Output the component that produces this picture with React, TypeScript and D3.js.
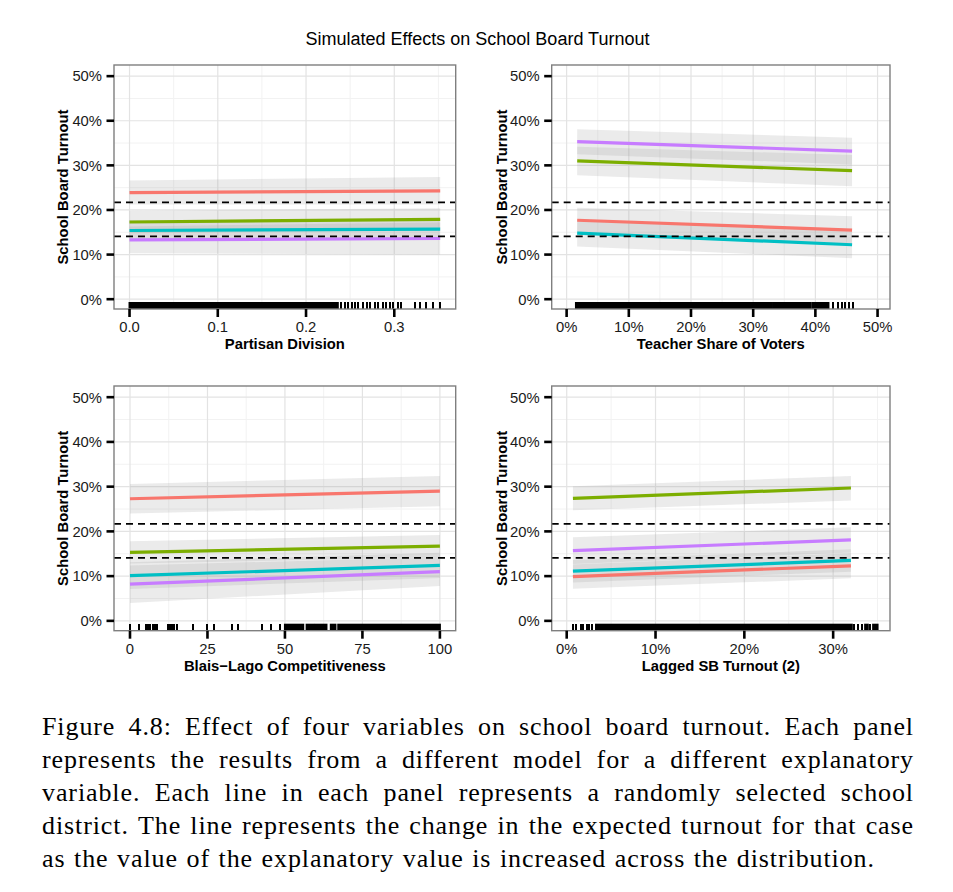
import React, { useRef, useEffect } from "react";
import * as d3 from "d3";

const width = 953;
const height = 892;

const chartTitle = "Simulated Effects on School Board Turnout";
const yTitle = "School Board Turnout";

// red, green, teal, purple districts (same order in every panel)
const lineColors = ["#F8766D", "#7CAE00", "#00BFC4", "#C77CFF"];

const yTicks = [0, 0.1, 0.2, 0.3, 0.4, 0.5];
const yMinor = [0.05, 0.15, 0.25, 0.35, 0.45];
const yDomain = [-0.022, 0.525];
const thresholds = [0.217, 0.141];

// Partisan Division
const partisanTicks = [0, 0.1, 0.2, 0.3];
const partisanMinor = [0.05, 0.15, 0.25, 0.35];
const partisanRange = [0, 0.352];
const partisanLines = [
  { y0: 0.239, y1: 0.243, lo0: 0.212, lo1: 0.212, hi0: 0.266, hi1: 0.274 },
  { y0: 0.173, y1: 0.179, lo0: 0.148, lo1: 0.154, hi0: 0.198, hi1: 0.204 },
  { y0: 0.154, y1: 0.157, lo0: 0.131, lo1: 0.134, hi0: 0.177, hi1: 0.18 },
  { y0: 0.133, y1: 0.136, lo0: 0.103, lo1: 0.1, hi0: 0.163, hi1: 0.172 },
];
const partisanRugDense = [[0, 0.236]];
const partisanRug = [
  0.24, 0.244, 0.248, 0.252, 0.255, 0.259, 0.265, 0.269, 0.273, 0.278, 0.282,
  0.287, 0.291, 0.295, 0.299, 0.304, 0.308, 0.3235, 0.329, 0.336, 0.3436, 0.352,
];

// Teacher Share of Voters
const teacherTicks = [0, 0.1, 0.2, 0.3, 0.4, 0.5];
const teacherMinor = [0.05, 0.15, 0.25, 0.35, 0.45];
const teacherRange = [0.017, 0.459];
const teacherLines = [
  { y0: 0.177, y1: 0.155, lo0: 0.149, lo1: 0.124, hi0: 0.205, hi1: 0.186 },
  { y0: 0.31, y1: 0.288, lo0: 0.278, lo1: 0.253, hi0: 0.342, hi1: 0.323 },
  { y0: 0.148, y1: 0.122, lo0: 0.118, lo1: 0.092, hi0: 0.178, hi1: 0.152 },
  { y0: 0.353, y1: 0.332, lo0: 0.325, lo1: 0.302, hi0: 0.381, hi1: 0.362 },
];
const teacherRugDense = [
  [0.015, 0.33], [0.332, 0.37], [0.372, 0.392], [0.395, 0.408], [0.41, 0.421],
];
const teacherRug = [0.428, 0.436, 0.4425, 0.448, 0.4545, 0.46];

// Blais-Lago Competitiveness
const blaisTicks = [0, 25, 50, 75, 100];
const blaisMinor = [12.5, 37.5, 62.5, 87.5];
const blaisRange = [0, 100];
const blaisLines = [
  { y0: 0.273, y1: 0.29, lo0: 0.24, lo1: 0.256, hi0: 0.306, hi1: 0.324 },
  { y0: 0.153, y1: 0.167, lo0: 0.128, lo1: 0.142, hi0: 0.178, hi1: 0.192 },
  { y0: 0.101, y1: 0.124, lo0: 0.071, lo1: 0.096, hi0: 0.131, hi1: 0.152 },
  { y0: 0.082, y1: 0.11, lo0: 0.04, lo1: 0.078, hi0: 0.124, hi1: 0.142 },
];
const blaisRugDense = [[50, 55.9], [57, 59.1], [59.7, 63.4], [64.8, 66.3], [67.2, 100]];
const blaisRug = [
  0, 2.8, 5.2, 5.8, 6.4, 7.5, 8.2, 8.7, 12.2, 12.8, 13.5, 14.3, 15.1, 20.2, 24.8,
  27.1, 32.8, 34.9, 42.5, 45.6, 48.4,
];

// Lagged SB Turnout (2)
const laggedTicks = [0, 0.1, 0.2, 0.3];
const laggedMinor = [0.05, 0.15, 0.25, 0.35];
const laggedRange = [0.007, 0.32];
const laggedLines = [
  { y0: 0.099, y1: 0.123, lo0: 0.072, lo1: 0.095, hi0: 0.126, hi1: 0.151 },
  { y0: 0.274, y1: 0.297, lo0: 0.247, lo1: 0.269, hi0: 0.301, hi1: 0.324 },
  { y0: 0.111, y1: 0.135, lo0: 0.086, lo1: 0.11, hi0: 0.136, hi1: 0.16 },
  { y0: 0.157, y1: 0.181, lo0: 0.127, lo1: 0.153, hi0: 0.187, hi1: 0.209 },
];
const laggedRugDense = [[0.033, 0.321], [0.336, 0.339], [0.345, 0.35]];
const laggedRug = [0.0075, 0.011, 0.016, 0.018, 0.0225, 0.0255, 0.028, 0.324, 0.328, 0.332, 0.341];

const captionLines = [
  "Figure 4.8: Effect of four variables on school board turnout. Each panel",
  "represents the results from a different model for a different explanatory",
  "variable. Each line in each panel represents a randomly selected school",
  "district. The line represents the change in the expected turnout for that case",
  "as the value of the explanatory value is increased across the distribution.",
];

const pct = d3.format(".0%");

const panels = [
  {
    left: 114, top: 65, w: 341.7, h: 244, domain: [-0.0176, 0.3696],
    ticks: partisanTicks, minor: partisanMinor, fmt: d3.format(".1f"),
    title: "Partisan Division", range: partisanRange, lines: partisanLines,
    dense: partisanRugDense, rug: partisanRug, yTitleX: 63,
  },
  {
    left: 551.7, top: 65, w: 338.3, h: 244, domain: [-0.024, 0.52],
    ticks: teacherTicks, minor: teacherMinor, fmt: pct,
    title: "Teacher Share of Voters", range: teacherRange, lines: teacherLines,
    dense: teacherRugDense, rug: teacherRug, yTitleX: 501.5,
  },
  {
    left: 114, top: 386, w: 341.7, h: 244.7, domain: [-5.16, 105.1],
    ticks: blaisTicks, minor: blaisMinor, fmt: d3.format("d"),
    title: "Blais\u2212Lago Competitiveness", range: blaisRange, lines: blaisLines,
    dense: blaisRugDense, rug: blaisRug, yTitleX: 63,
  },
  {
    left: 551.7, top: 386, w: 338.3, h: 244.7, domain: [-0.0169, 0.364],
    ticks: laggedTicks, minor: laggedMinor, fmt: pct,
    title: "Lagged SB Turnout (2)", range: laggedRange, lines: laggedLines,
    dense: laggedRugDense, rug: laggedRug, yTitleX: 501.5,
  },
];

const sans = "'Liberation Sans', Arial, Helvetica, sans-serif";

export default function App() {
  const ref = useRef<SVGSVGElement | null>(null);

  useEffect(() => {
    const svg = d3.select(ref.current);
    svg.selectAll("*").remove();

    svg.append("rect").attr("width", width).attr("height", height).attr("fill", "#fff");

    svg
      .append("text")
      .attr("x", 477.5)
      .attr("y", 44.5)
      .attr("text-anchor", "middle")
      .attr("font-family", sans)
      .attr("font-size", 18)
      .attr("fill", "#000")
      .text(chartTitle);

    panels.forEach((p) => {
      const x = d3.scaleLinear().domain(p.domain).range([p.left, p.left + p.w]);
      const y = d3.scaleLinear().domain(yDomain).range([p.top + p.h, p.top]);
      const g = svg.append("g");
      const bottom = p.top + p.h;

      // minor grid
      g.selectAll("line.xminor")
        .data(p.minor)
        .enter()
        .append("line")
        .attr("x1", (d) => x(d)).attr("x2", (d) => x(d))
        .attr("y1", p.top).attr("y2", bottom)
        .attr("stroke", "#f2f2f2").attr("stroke-width", 1);
      g.selectAll("line.yminor")
        .data(yMinor)
        .enter()
        .append("line")
        .attr("x1", p.left).attr("x2", p.left + p.w)
        .attr("y1", (d) => y(d)).attr("y2", (d) => y(d))
        .attr("stroke", "#f2f2f2").attr("stroke-width", 1);
      // major grid
      g.selectAll("line.xmajor")
        .data(p.ticks)
        .enter()
        .append("line")
        .attr("x1", (d) => x(d)).attr("x2", (d) => x(d))
        .attr("y1", p.top).attr("y2", bottom)
        .attr("stroke", "#e3e3e3").attr("stroke-width", 1.2);
      g.selectAll("line.ymajor")
        .data(yTicks)
        .enter()
        .append("line")
        .attr("x1", p.left).attr("x2", p.left + p.w)
        .attr("y1", (d) => y(d)).attr("y2", (d) => y(d))
        .attr("stroke", "#e3e3e3").attr("stroke-width", 1.2);

      // ribbons
      const area = d3
        .area<{ x: number; lo: number; hi: number }>()
        .x((d) => x(d.x))
        .y0((d) => y(d.lo))
        .y1((d) => y(d.hi));
      p.lines.forEach((l) => {
        g.append("path")
          .attr("d", area([
            { x: p.range[0], lo: l.lo0, hi: l.hi0 },
            { x: p.range[1], lo: l.lo1, hi: l.hi1 },
          ]))
          .attr("fill", "#999")
          .attr("fill-opacity", 0.2);
      });

      // fitted lines
      const line = d3
        .line<{ x: number; v: number }>()
        .x((d) => x(d.x))
        .y((d) => y(d.v));
      p.lines.forEach((l, i) => {
        g.append("path")
          .attr("d", line([
            { x: p.range[0], v: l.y0 },
            { x: p.range[1], v: l.y1 },
          ]))
          .attr("fill", "none")
          .attr("stroke", lineColors[i])
          .attr("stroke-width", 3.2);
      });

      // thresholds
      g.selectAll("line.thr")
        .data(thresholds)
        .enter()
        .append("line")
        .attr("x1", p.left).attr("x2", p.left + p.w)
        .attr("y1", (d) => y(d)).attr("y2", (d) => y(d))
        .attr("stroke", "#000").attr("stroke-width", 1.8)
        .attr("stroke-dasharray", "7,5");

      // rug
      g.selectAll("rect.dense")
        .data(p.dense)
        .enter()
        .append("rect")
        .attr("x", (d) => x(d[0]) - 1)
        .attr("width", (d) => x(d[1]) - x(d[0]) + 2)
        .attr("y", bottom - 7)
        .attr("height", 7)
        .attr("fill", "#000");
      g.selectAll("line.rug")
        .data(p.rug)
        .enter()
        .append("line")
        .attr("x1", (d) => x(d)).attr("x2", (d) => x(d))
        .attr("y1", bottom - 7).attr("y2", bottom)
        .attr("stroke", "#000").attr("stroke-width", 2)
        .attr("shape-rendering", "crispEdges");

      // border
      g.append("rect")
        .attr("x", p.left).attr("y", p.top)
        .attr("width", p.w).attr("height", p.h)
        .attr("fill", "none")
        .attr("stroke", "#7f7f7f")
        .attr("stroke-width", 1.4);

      // axes ticks
      g.selectAll("line.xt")
        .data(p.ticks)
        .enter()
        .append("line")
        .attr("x1", (d) => x(d)).attr("x2", (d) => x(d))
        .attr("y1", bottom).attr("y2", bottom + 8)
        .attr("stroke", "#000").attr("stroke-width", 2.6);
      g.selectAll("line.yt")
        .data(yTicks)
        .enter()
        .append("line")
        .attr("x1", p.left - 7.5).attr("x2", p.left)
        .attr("y1", (d) => y(d)).attr("y2", (d) => y(d))
        .attr("stroke", "#000").attr("stroke-width", 2.6);

      g.selectAll("text.xl")
        .data(p.ticks)
        .enter()
        .append("text")
        .attr("x", (d) => x(d))
        .attr("y", bottom + 23)
        .attr("text-anchor", "middle")
        .attr("font-family", sans)
        .attr("font-size", 14.8)
        .attr("fill", "#1a1a1a")
        .text((d) => p.fmt(d));
      g.selectAll("text.yl")
        .data(yTicks)
        .enter()
        .append("text")
        .attr("x", p.left - 12)
        .attr("y", (d) => y(d))
        .attr("dy", "0.36em")
        .attr("text-anchor", "end")
        .attr("font-family", sans)
        .attr("font-size", 14.8)
        .attr("fill", "#1a1a1a")
        .text((d) => pct(d));

      g.append("text")
        .attr("x", p.left + p.w / 2)
        .attr("y", bottom + 40)
        .attr("text-anchor", "middle")
        .attr("font-family", sans)
        .attr("font-size", 14.8)
        .attr("font-weight", "bold")
        .attr("fill", "#000")
        .text(p.title);

      g.append("text")
        .attr("transform", `translate(${p.yTitleX},${p.top + p.h / 2}) rotate(-90)`)
        .attr("dy", "0.36em")
        .attr("text-anchor", "middle")
        .attr("font-family", sans)
        .attr("font-size", 14.8)
        .attr("font-weight", "bold")
        .attr("fill", "#000")
        .text(yTitle);
    });

    // caption, justified word by word
    const capLeft = 42;
    const capWidth = 872;
    const capSize = 26;
    captionLines.forEach((txt, i) => {
      const words = txt.split(" ");
      const t = svg
        .append("text")
        .attr("y", 735 + i * 33)
        .attr("font-family", "'Liberation Serif', 'Times New Roman', serif")
        .attr("font-size", capSize)
        .attr("letter-spacing", 0.9)
        .attr("fill", "#000");
      const spans = words.map((w) => t.append("tspan").text(w));
      const widths = spans.map((s) => (s.node() as SVGTSpanElement).getComputedTextLength());
      const total = d3.sum(widths);
      const last = i === captionLines.length - 1;
      const gap = last ? capSize * 0.33 : (capWidth - total) / (words.length - 1);
      let cx = capLeft;
      spans.forEach((s, j) => {
        s.attr("x", cx);
        cx += widths[j] + gap;
      });
    });
  }, []);

  return (
    <svg
      ref={ref}
      width={width}
      height={height}
      style={{ position: "absolute", left: 0, top: 0, display: "block" }}
    />
  );
}
